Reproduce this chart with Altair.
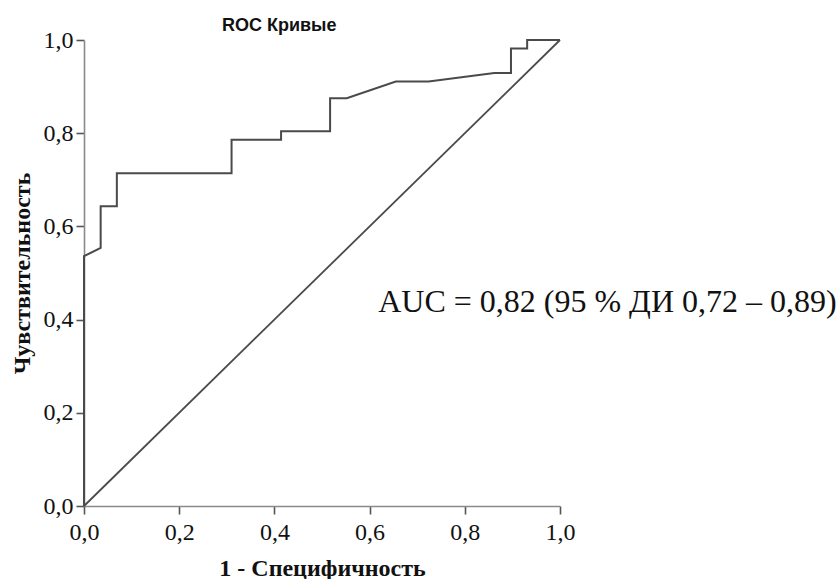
import altair as alt
import pandas as pd

# ROC curve points (1 - specificity, sensitivity)
fpr = [0.0, 0.0, 0.035, 0.035, 0.069, 0.069, 0.310, 0.310, 0.414, 0.414,
       0.517, 0.517, 0.552, 0.655, 0.724, 0.862, 0.897, 0.897, 0.931, 0.931, 1.0]
tpr = [0.0, 0.536, 0.554, 0.643, 0.643, 0.714, 0.714, 0.786, 0.786, 0.804,
       0.804, 0.875, 0.875, 0.911, 0.911, 0.929, 0.929, 0.982, 0.982, 1.0, 1.0]

diag_x = [0.0, 1.0]
diag_y = [0.0, 1.0]

tick_values = [0.0, 0.2, 0.4, 0.6, 0.8, 1.0]

ann_text = ["AUC = 0,82 (95 % ДИ 0,72 – 0,89)"]
ann_x = [0.618]
ann_y = [0.416]

roc = pd.DataFrame({"fpr": fpr, "tpr": tpr, "step": list(range(len(fpr)))})
diag = pd.DataFrame({"fpr": diag_x, "tpr": diag_y, "step": [0, 1]})
ann = pd.DataFrame({"x": ann_x, "y": ann_y, "t": ann_text})

label_expr = "replace(format(datum.value, '.1f'), '.', ',')"
serif = "Liberation Serif"

x_scale = alt.Scale(domain=[0, 1], nice=False, zero=False)
y_scale = alt.Scale(domain=[0, 1], nice=False, zero=False)

x_axis = alt.Axis(
    values=tick_values, labelExpr=label_expr, title="1 - Специфичность",
    grid=False, domainColor="#8a8a8a", domainWidth=1.6, tickColor="#555",
    tickWidth=1.6, tickSize=8, labelFont=serif, labelFontSize=24,
    labelColor="#111", labelPadding=6, labelFlush=False,
    titleFont=serif, titleFontSize=24,
    titleFontWeight="bold", titleColor="#111", titleX=238, titleY=69,
    titleBaseline="alphabetic", titleAlign="center",
)
y_axis = alt.Axis(
    values=tick_values, labelExpr=label_expr, title="Чувствительность",
    grid=False, domainColor="#8a8a8a", domainWidth=1.6, tickColor="#555",
    tickWidth=1.6, tickSize=8, labelFont=serif, labelFontSize=24,
    labelColor="#111", labelPadding=3, labelFlush=False,
    titleFont=serif, titleFontSize=24,
    titleFontWeight="bold", titleColor="#111", titleX=-74, titleY=233,
    titleAngle=-90, titleAlign="center", titleBaseline="top",
)

curve = alt.Chart(roc).mark_line(color="#4a4a4a", strokeWidth=2, clip=False).encode(
    x=alt.X("fpr:Q", scale=x_scale, axis=x_axis),
    y=alt.Y("tpr:Q", scale=y_scale, axis=y_axis),
    order="step:Q",
)

ref = alt.Chart(diag).mark_line(color="#4a4a4a", strokeWidth=1.8).encode(
    x=alt.X("fpr:Q", scale=x_scale),
    y=alt.Y("tpr:Q", scale=y_scale),
    order="step:Q",
)

label = alt.Chart(ann).mark_text(
    font=serif, fontSize=32, color="#111", align="left", baseline="alphabetic"
).encode(
    x=alt.X("x:Q", scale=x_scale),
    y=alt.Y("y:Q", scale=y_scale),
    text="t:N",
)

chart = alt.layer(ref, curve, label).properties(
    width=476,
    height=466,
    title=alt.TitleParams(
        "ROC Кривые", anchor="start", frame="group", dx=138,
        font="Liberation Sans", fontSize=18, fontWeight="bold",
        color="#111", offset=-7,
    ),
    autosize=alt.AutoSizeParams(type="none"),
    padding={"left": 84, "top": 40, "right": 279, "bottom": 73},
    background="white",
).configure_view(stroke=None)

chart.save("out.html", embed_options={"renderer": "svg", "actions": False})
